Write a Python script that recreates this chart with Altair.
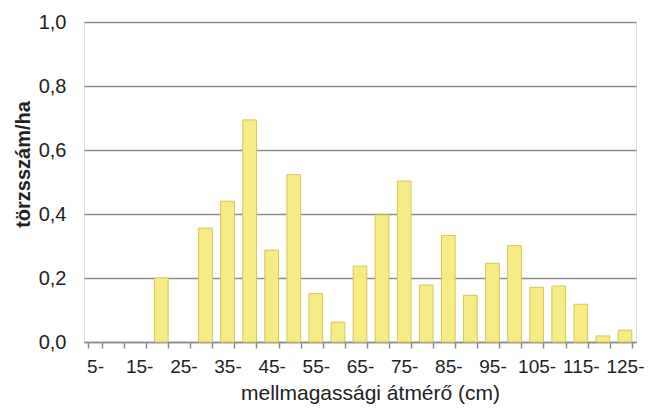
import altair as alt
import pandas as pd

categories = [f"{d}-" for d in range(5, 130, 5)]
values = [0, 0, 0, 0.200, 0, 0.356, 0.440, 0.694, 0.287, 0.523, 0.151, 0.062,
          0.237, 0.397, 0.503, 0.178, 0.333, 0.146, 0.246, 0.301, 0.171, 0.175,
          0.118, 0.019, 0.037]

df = pd.DataFrame({"cat": categories, "v": values})

FONT = "Liberation Sans"
GRID = "#8c8c8c"

chart = (
    alt.Chart(df)
    .transform_filter("datum.v > 0")
    .mark_bar(color="#F7EB86", stroke="#D8C65A", strokeWidth=1)
    .encode(
        x=alt.X(
            "cat:N",
            sort=categories,
            scale=alt.Scale(domain=categories, paddingInner=0.38, paddingOuter=0.19),
            axis=alt.Axis(
                title="mellmagassági átmérő (cm)",
                labelAngle=0,
                labelExpr="parseInt(datum.value) % 10 == 5 ? datum.value : ''",
                tickBand="extent",
                ticks=True,
                tickSize=6,
                tickColor=GRID,
                tickWidth=1.5,
                domainColor=GRID,
                domainWidth=1.5,
                labelFont=FONT,
                labelFontSize=19,
                labelColor="#222222",
                labelPadding=9,
                labelOverlap=False,
                titleFont=FONT,
                titleFontSize=21,
                titleFontWeight="normal",
                titleColor="#222222",
                titleBaseline="alphabetic",
                titleY=57,
                titleX=286,
                grid=False,
            ),
        ),
        y=alt.Y(
            "v:Q",
            scale=alt.Scale(domain=[0, 1.0], nice=False),
            axis=alt.Axis(
                title="törzsszám/ha",
                values=[0, 0.2, 0.4, 0.6, 0.8, 1.0],
                labelExpr="replace(format(datum.value, '.1f'), '.', ',')",
                ticks=False,
                tickSize=0,
                domain=False,
                grid=True,
                gridColor=GRID,
                gridWidth=1.5,
                labelFont=FONT,
                labelFontSize=20,
                labelColor="#222222",
                labelPadding=18,
                titleFont=FONT,
                titleFontSize=20,
                titleFontWeight="bold",
                titleColor="#222222",
                titleBaseline="alphabetic",
                titleX=-55,
                titleY=142,
                titleAngle=270,
            ),
        ),
    )
    .properties(
        width=552,
        height=320,
        autosize=alt.AutoSizeParams(type="none"),
        padding={"left": 76, "top": 14, "right": 8, "bottom": 62},
    )
    .configure_view(strokeWidth=0)
    .configure(background="white")
)

chart.save("out.html", embed_options={"renderer": "svg", "actions": False})
